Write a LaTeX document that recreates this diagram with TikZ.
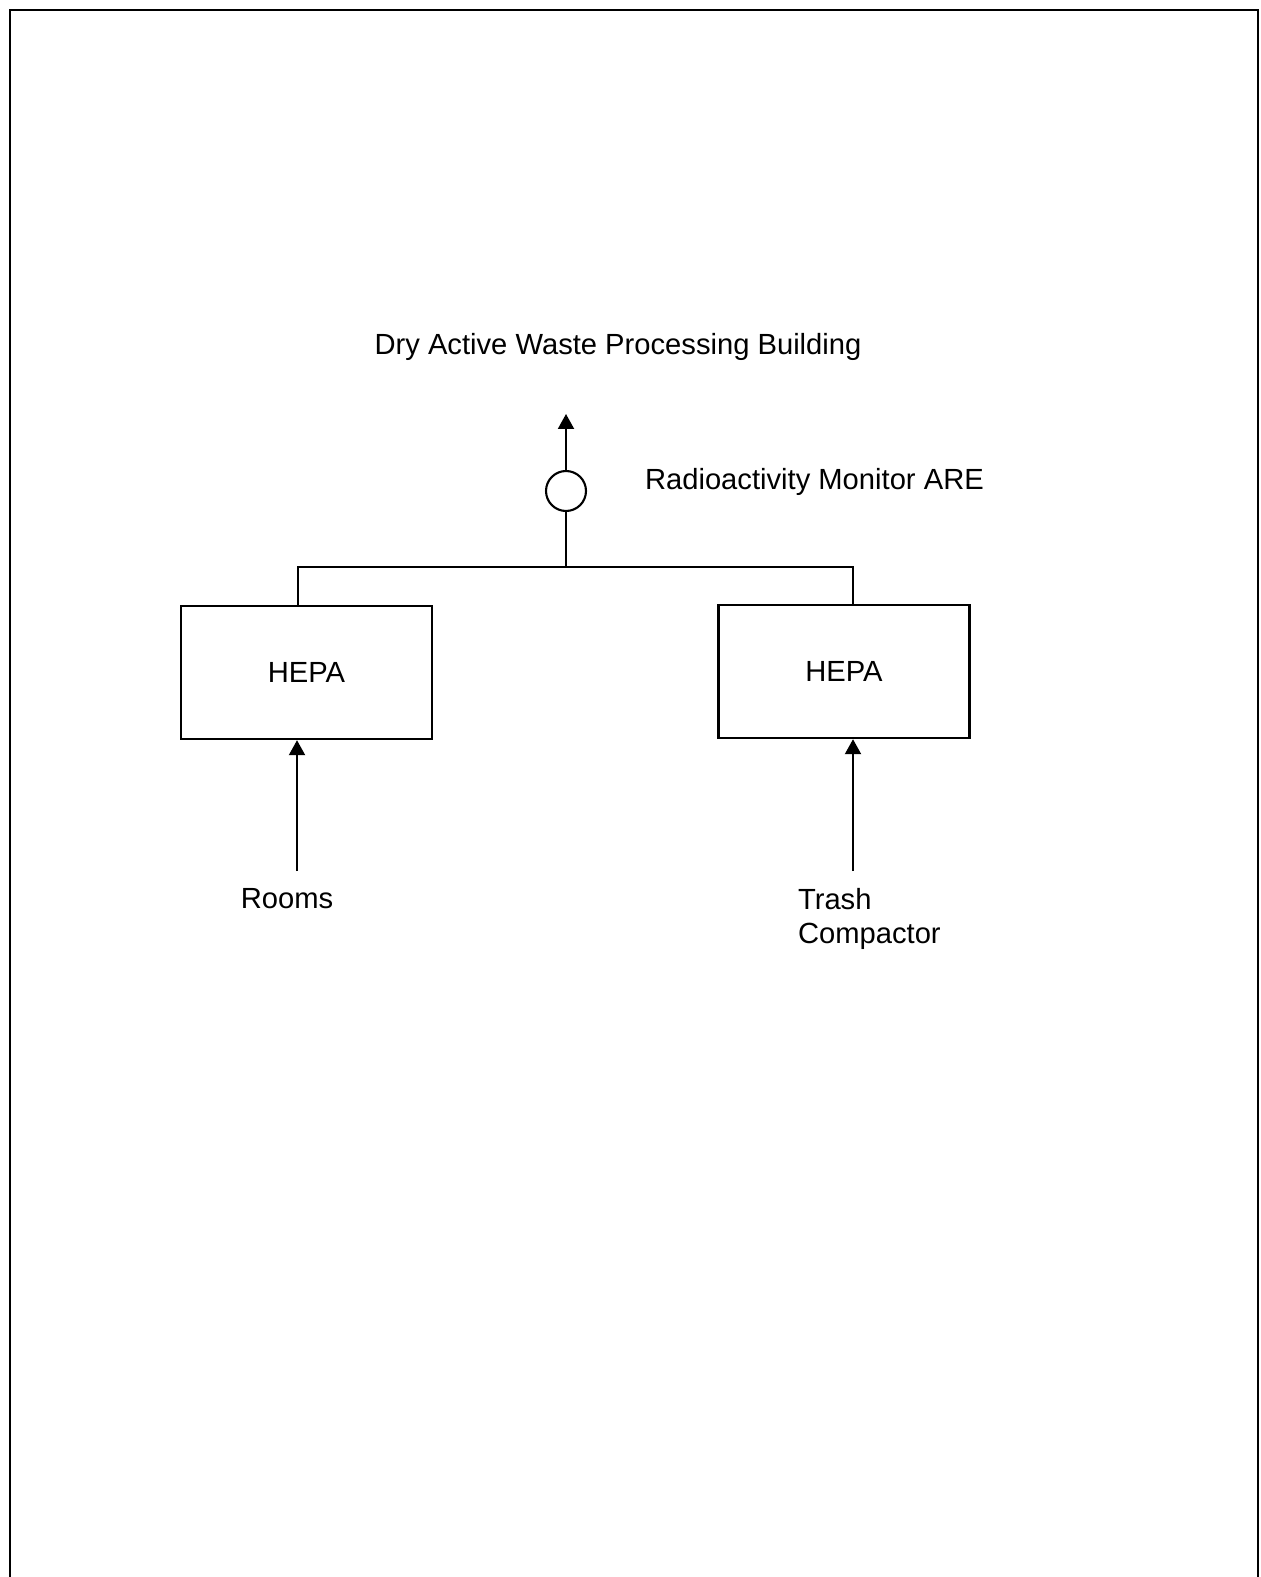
\documentclass[tikz,border=0pt]{standalone}
\usepackage{fontspec}
\setmainfont{Liberation Sans}
\usetikzlibrary{arrows.meta, positioning}
\tikzset{every picture/.style={line width=1.2pt}}

\begin{document}
\begin{tikzpicture}[x=0.02cm, y=-0.02cm,
  txt/.style={font=\fontsize{16.6}{19.3}\selectfont, inner sep=0pt},
  hepa/.style={draw, line width=1.4pt, minimum width=5.02cm, minimum height=2.66cm,
    inner sep=0pt, font=\fontsize{16.6}{19.3}\selectfont},
  monitor/.style={draw, circle, minimum size=0.8cm, inner sep=0pt},
  flow/.style={-{Triangle[length=0.3cm, width=0.32cm]}}]
\useasboundingbox (0,0) rectangle (1260,1577);
% page frame, open at the bottom
\draw[line width=1.6pt] (10,1577) -- (10,10) -- (1258,10) -- (1258,1577);

\node[txt, anchor=base] (title) at (618,355) {Dry Active Waste Processing Building};
\node[monitor] (mon) at (566,491) {};
\node[txt, anchor=base west] (monlbl) at (644,489) {Radioactivity Monitor ARE};
\coordinate (out) at (566,414);
\draw[flow] (mon) -- (out);

\node[hepa] (hepaL) at (306.5,672.5) {HEPA};
\node[hepa] (hepaR) at (844,671.5) {HEPA};

% collecting duct
\coordinate (bus) at (566,567);
\coordinate (busL) at (298,567);
\coordinate (busR) at (853,567);
\draw (mon) -- (bus);
\draw (hepaL.north -| busL) -- (busL) -- (busR) -- (hepaR.north -| busR);

% inlets
\coordinate (roomsin) at (297,871);
\coordinate (trashin) at (853,871);
\draw[flow] (roomsin) -- (roomsin |- hepaL.south);
\draw[flow] (trashin) -- (trashin |- hepaR.south);
\node[txt, anchor=base] (rooms) at (287,908) {Rooms};
\node[txt, anchor=north west, align=left] (trash) at (797,887) {Trash\\Compactor};
\end{tikzpicture}
\end{document}
